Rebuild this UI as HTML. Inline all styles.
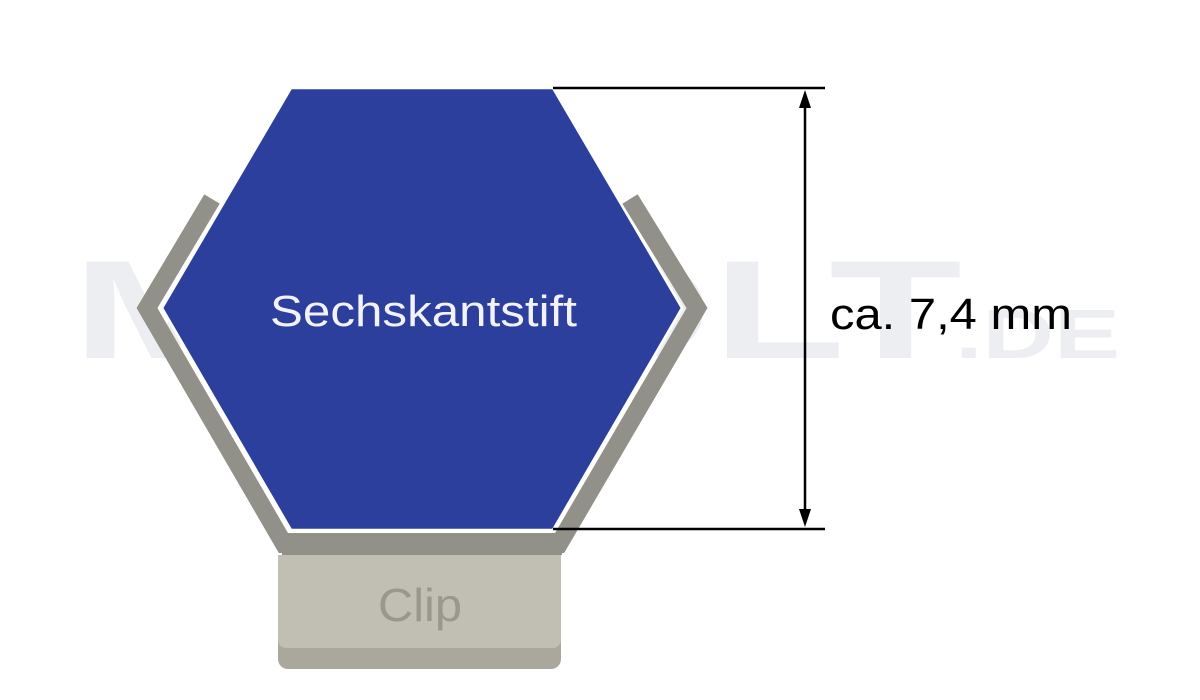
<!DOCTYPE html>
<html><head><meta charset="utf-8"><style>
html,body{margin:0;padding:0;background:#fff;}
svg{display:block}
</style></head><body>
<svg width="1200" height="700" viewBox="0 0 1200 700" xmlns="http://www.w3.org/2000/svg">
  <!-- watermark -->
  <text x="72" y="358" font-family="Liberation Sans, sans-serif" font-weight="bold" font-size="140" fill="#eceef2" textLength="890" lengthAdjust="spacingAndGlyphs">MYVOLT</text>
  <text x="955" y="358" font-family="Liberation Sans, sans-serif" font-weight="bold" font-size="70" fill="#eceef2" textLength="165" lengthAdjust="spacingAndGlyphs">.DE</text>
  <!-- grey frame -->
  <polyline points="212,199 147,308 284,544 559,544 697,308 630,199" fill="none" stroke="#919189" stroke-width="18" stroke-linejoin="miter"/>
  <rect x="282" y="533" width="280" height="22" fill="#919189"/>
  <!-- clip -->
  <rect x="278" y="620" width="283" height="49" rx="10" fill="#aaa89c"/>
  <rect x="278" y="555" width="283" height="93" rx="8" fill="#c1bfb3"/>
  <rect x="278" y="555" width="283" height="20" fill="#c1bfb3"/>
  <text x="378" y="621" font-family="Liberation Sans, sans-serif" font-size="46" fill="#9a988d" textLength="84" lengthAdjust="spacingAndGlyphs">Clip</text>
  <!-- hexagon -->
  <polygon points="291,88 553,88 682,308 553,530 291,530 162,308" fill="#2c3f9d" stroke="#ffffff" stroke-width="2.5"/>
  <text x="270" y="326" font-family="Liberation Sans, sans-serif" font-size="44" fill="#f2f2f8" textLength="307" lengthAdjust="spacingAndGlyphs">Sechskantstift</text>
  <!-- dimension -->
  <line x1="553" y1="88" x2="825" y2="88" stroke="#000" stroke-width="2.5"/>
  <line x1="553" y1="529" x2="825" y2="529" stroke="#000" stroke-width="2.5"/>
  <line x1="805" y1="105" x2="805" y2="512" stroke="#000" stroke-width="2.5"/>
  <polygon points="805,90 799,108 811,108" fill="#000"/>
  <polygon points="805,527 799,509 811,509" fill="#000"/>
  <text x="830" y="329" font-family="Liberation Sans, sans-serif" font-size="44" fill="#000" textLength="242" lengthAdjust="spacingAndGlyphs">ca. 7,4 mm</text>
</svg>
</body></html>
